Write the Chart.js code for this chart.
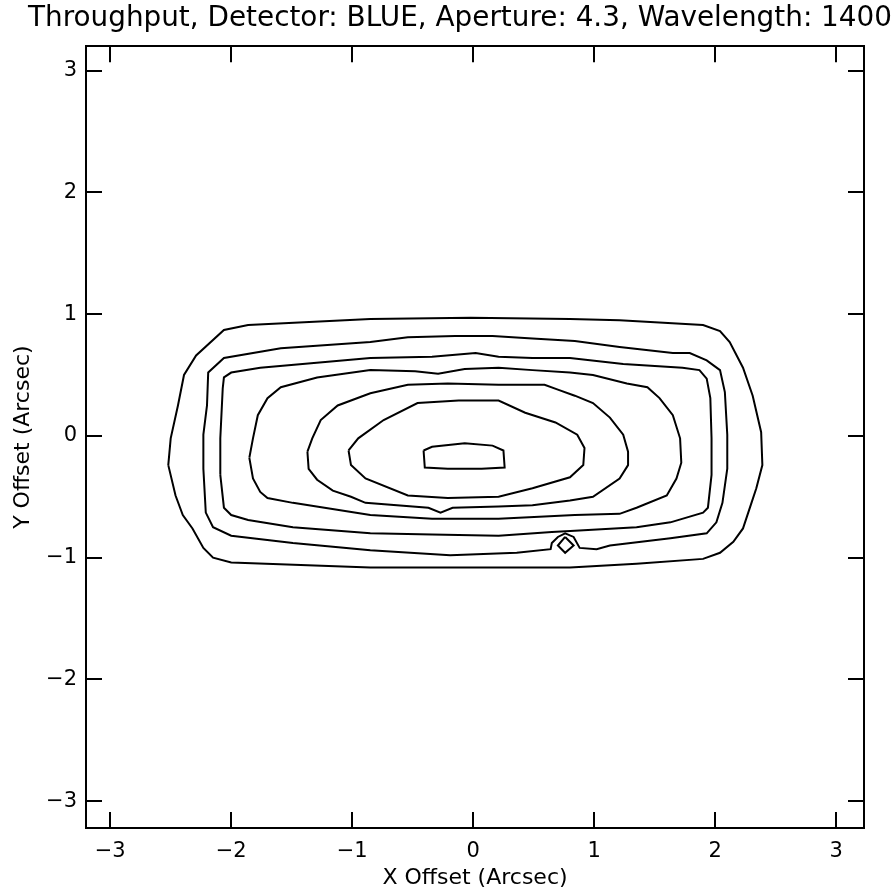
<!DOCTYPE html>
<html>
<head>
<meta charset="utf-8">
<title>Throughput contours</title>
<script src="https://cdn.jsdelivr.net/npm/chart.js@4"></script>
<style>
  html, body { margin: 0; padding: 0; background: #fff; }
  #wrap { width: 892px; height: 896px; }
</style>
</head>
<body>
<div id="wrap"><canvas id="chart" width="892" height="896"></canvas></div>
<script>
// ── axis ranges / ticks ─────────────────────────────────
const X_MIN = -3.2, X_MAX = 3.23;
const Y_MIN = -3.22, Y_MAX = 3.2;
const X_TICKS = [-3, -2, -1, 0, 1, 2, 3];
const Y_TICKS = [-3, -2, -1, 0, 1, 2, 3];

// ── contour levels, outermost first (arcsec) ────────────
const C1_X = [-2.52,-2.50,-2.44,-2.39,-2.29,-2.06,-1.86,-0.85,-0.02,0.80,1.21,1.90,2.04,2.12,2.23,2.31,2.38,2.39,2.34,2.30,2.23,2.15,2.04,1.90,1.35,0.80,-0.85,-2.00,-2.15,-2.23,-2.32,-2.40,-2.46,-2.52];
const C1_Y = [-0.24,-0.02,0.25,0.50,0.66,0.87,0.91,0.96,0.97,0.96,0.95,0.91,0.86,0.77,0.56,0.33,0.03,-0.24,-0.43,-0.55,-0.76,-0.87,-0.96,-1.01,-1.05,-1.08,-1.08,-1.04,-1.00,-0.92,-0.76,-0.65,-0.49,-0.24];

const C2_X = [-2.23,-2.23,-2.20,-2.19,-2.06,-1.59,-0.85,-0.54,-0.15,0.16,0.49,0.84,1.21,1.65,1.79,1.93,2.04,2.08,2.10,2.10,2.06,2.01,1.93,1.63,1.13,1.02,0.88,0.83,0.76,0.70,0.65,0.64,0.36,-0.19,-0.85,-1.49,-2.00,-2.15,-2.21,-2.23];
const C2_Y = [-0.27,0.01,0.25,0.52,0.64,0.72,0.77,0.81,0.82,0.82,0.80,0.78,0.73,0.68,0.68,0.62,0.54,0.36,0.01,-0.27,-0.55,-0.71,-0.80,-0.84,-0.90,-0.93,-0.92,-0.83,-0.80,-0.83,-0.88,-0.93,-0.96,-0.98,-0.94,-0.88,-0.82,-0.75,-0.63,-0.27];

const C3_X = [-2.09,-2.09,-2.07,-2.06,-2.00,-1.76,-0.85,-0.34,0.02,0.21,0.49,0.80,1.24,1.73,1.87,1.93,1.96,1.97,1.97,1.94,1.90,1.63,1.35,0.84,0.65,0.21,-0.34,-0.85,-1.49,-1.86,-2.00,-2.06,-2.09];
const C3_Y = [-0.32,-0.02,0.39,0.48,0.52,0.56,0.64,0.65,0.68,0.65,0.64,0.64,0.59,0.56,0.54,0.47,0.31,-0.02,-0.32,-0.59,-0.63,-0.71,-0.75,-0.78,-0.79,-0.82,-0.81,-0.80,-0.75,-0.69,-0.65,-0.59,-0.32];

const C4_X = [-1.85,-1.82,-1.78,-1.70,-1.59,-1.29,-0.85,-0.48,-0.29,-0.07,0.21,0.49,0.80,0.99,1.27,1.44,1.54,1.65,1.71,1.72,1.68,1.60,1.35,1.21,0.84,0.21,-0.34,-0.85,-1.49,-1.70,-1.76,-1.82,-1.85];
const C4_Y = [-0.18,-0.02,0.17,0.31,0.40,0.48,0.54,0.53,0.51,0.55,0.56,0.54,0.52,0.50,0.43,0.40,0.31,0.17,-0.02,-0.22,-0.35,-0.49,-0.59,-0.64,-0.65,-0.68,-0.68,-0.65,-0.55,-0.51,-0.46,-0.35,-0.18];

const C5_X = [-1.37,-1.33,-1.26,-1.12,-0.85,-0.54,-0.21,0.21,0.59,0.70,0.84,0.99,1.13,1.24,1.28,1.28,1.21,0.99,0.80,0.49,0.21,-0.17,-0.27,-0.37,-0.89,-1.01,-1.16,-1.29,-1.36,-1.37];
const C5_Y = [-0.13,-0.02,0.13,0.25,0.35,0.42,0.43,0.42,0.42,0.38,0.33,0.27,0.15,0.01,-0.13,-0.24,-0.35,-0.50,-0.53,-0.57,-0.58,-0.59,-0.63,-0.59,-0.55,-0.50,-0.45,-0.36,-0.27,-0.13];

const C6_X = [-1.03,-0.95,-0.74,-0.46,-0.12,0.21,0.43,0.68,0.86,0.92,0.91,0.80,0.49,0.21,-0.21,-0.54,-0.89,-1.01,-1.03];
const C6_Y = [-0.12,-0.02,0.13,0.27,0.29,0.29,0.19,0.11,0.01,-0.10,-0.24,-0.34,-0.43,-0.50,-0.51,-0.49,-0.35,-0.24,-0.12];

const C7_X = [-0.41,-0.34,-0.07,0.16,0.25,0.26,0.07,-0.21,-0.40,-0.41];
const C7_Y = [-0.12,-0.09,-0.06,-0.08,-0.12,-0.26,-0.27,-0.27,-0.26,-0.12];

// small closed island near (0.76, -0.9)
const ISLAND_X = [0.76,0.83,0.76,0.70,0.76];
const ISLAND_Y = [-0.83,-0.90,-0.96,-0.90,-0.83];

const CONTOURS = [
  [C1_X, C1_Y], [C2_X, C2_Y], [C3_X, C3_Y], [C4_X, C4_Y],
  [C5_X, C5_Y], [C6_X, C6_Y], [C7_X, C7_Y], [ISLAND_X, ISLAND_Y],
];

const FONT = "'DejaVu Sans', sans-serif";
const TICK_LEN = 16;

// ── helpers ─────────────────────────────────────────────
const toPoints = (xs, ys) => xs.map((x, i) => ({ x, y: ys[i] }));
const fmtTick = v => (v < 0 ? '\u2212' + Math.abs(v) : String(v));

// IDL style: ticks pointing inward on all four sides
const inwardTicks = {
  id: 'inwardTicks',
  afterDraw(chart) {
    const { ctx, chartArea: a, scales: { x, y } } = chart;
    ctx.save();
    ctx.strokeStyle = '#000';
    ctx.lineWidth = 2;
    ctx.beginPath();
    X_TICKS.forEach(v => {
      const px = Math.round(x.getPixelForValue(v));
      ctx.moveTo(px, a.bottom); ctx.lineTo(px, a.bottom - TICK_LEN);
      ctx.moveTo(px, a.top);    ctx.lineTo(px, a.top + TICK_LEN);
    });
    Y_TICKS.forEach(v => {
      const py = Math.round(y.getPixelForValue(v));
      ctx.moveTo(a.left, py);  ctx.lineTo(a.left + TICK_LEN, py);
      ctx.moveTo(a.right, py); ctx.lineTo(a.right - TICK_LEN, py);
    });
    ctx.stroke();
    ctx.restore();
  },
};

const frameAxis = (position, min, max, size) => ({
  type: 'linear',
  position,
  min, max,
  grid: { display: false, drawTicks: false },
  border: { display: true, color: '#000', width: 2 },
  ticks: { display: false },
  afterFit: s => { if (s.isHorizontal()) s.height = size; else s.width = size; },
});

new Chart(document.getElementById('chart'), {
  type: 'scatter',
  data: {
    datasets: CONTOURS.map(([xs, ys]) => ({
      data: toPoints(xs, ys),
      showLine: true,
      borderColor: '#000',
      borderWidth: 2,
      pointRadius: 0,
      tension: 0,
      fill: false,
    })),
  },
  options: {
    responsive: false,
    animation: false,
    devicePixelRatio: 1,
    layout: { padding: { left: 28, right: 0, top: 0, bottom: 0 } },
    plugins: {
      legend: { display: false },
      tooltip: { enabled: false },
      title: {
        display: true,
        text: 'Throughput, Detector: BLUE, Aperture: 4.3, Wavelength: 1400',
        color: '#000',
        font: { family: FONT, size: 28.5, weight: 'normal' },
        padding: { top: 1, bottom: 11 },
      },
    },
    scales: {
      x: {
        type: 'linear',
        position: 'bottom',
        min: X_MIN, max: X_MAX,
        afterBuildTicks: s => { s.ticks = X_TICKS.map(v => ({ value: v })); },
        afterFit: s => { s.height = 68; },
        grid: { display: false, drawTicks: false },
        border: { display: true, color: '#000', width: 2 },
        ticks: {
          color: '#000', padding: 11, maxRotation: 0,
          font: { family: FONT, size: 21 },
          callback: fmtTick,
        },
        title: {
          display: true, text: 'X Offset (Arcsec)', color: '#000',
          font: { family: FONT, size: 22 },
          padding: { top: 0, bottom: 5 },
        },
      },
      y: {
        type: 'linear',
        position: 'left',
        min: Y_MIN, max: Y_MAX,
        afterBuildTicks: s => { s.ticks = Y_TICKS.map(v => ({ value: v })); },
        afterFit: s => { s.width = 58; },
        grid: { display: false, drawTicks: false },
        border: { display: true, color: '#000', width: 2 },
        ticks: {
          color: '#000', padding: 9,
          font: { family: FONT, size: 21 },
          callback: fmtTick,
        },
        title: {
          display: true, text: 'Y Offset (Arcsec)', color: '#000',
          font: { family: FONT, size: 22 },
          padding: { top: -18, bottom: 0 },
        },
      },
      x2: frameAxis('top', X_MIN, X_MAX, 0),
      y2: frameAxis('right', Y_MIN, Y_MAX, 28),
    },
  },
  plugins: [inwardTicks],
});
</script>
</body>
</html>
